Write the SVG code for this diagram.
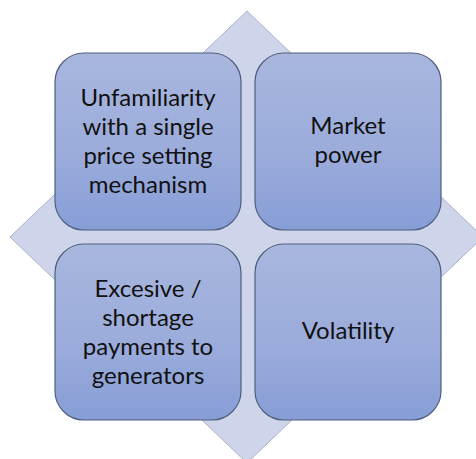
<svg xmlns="http://www.w3.org/2000/svg" width="476" height="459" viewBox="0 0 476 459">
<defs>
<linearGradient id="g" x1="0" y1="0" x2="0" y2="1">
<stop offset="0" stop-color="#a9b7de"/>
<stop offset="0.6" stop-color="#9aabdb"/>
<stop offset="1" stop-color="#869dd6"/>
</linearGradient>
</defs>
<style>
.box{fill:url(#g);stroke:#4f5f7f;stroke-width:1.2}
.t{font-family:Lato,"Open Sans",sans-serif;font-size:24px;fill:#111;text-anchor:middle}
</style>
<rect width="476" height="459" fill="#fff"/>
<polygon points="247,11 483,237 247,463 10,237" fill="#ced5ea" stroke="#aab2c8" stroke-width="1"/>
<g id="n1">
<rect class="box" x="55" y="53" width="186" height="177" rx="29"/>
<text class="t" x="148" y="106">Unfamiliarity</text>
<text class="t" x="148" y="135">with a single</text>
<text class="t" x="148" y="164">price setting</text>
<text class="t" x="148" y="193">mechanism</text>
</g>
<g id="n2">
<rect class="box" x="255" y="53" width="186" height="177" rx="29"/>
<text class="t" x="348" y="134">Market</text>
<text class="t" x="348" y="163">power</text>
</g>
<g id="n3">
<rect class="box" x="55" y="244" width="186" height="176" rx="29"/>
<text class="t" x="148" y="297">Excesive /</text>
<text class="t" x="148" y="326">shortage</text>
<text class="t" x="148" y="355">payments to</text>
<text class="t" x="148" y="384">generators</text>
</g>
<g id="n4">
<rect class="box" x="255" y="244" width="186" height="176" rx="29"/>
<text class="t" x="348" y="339">Volatility</text>
</g>
<g id="connectors"></g>
</svg>
